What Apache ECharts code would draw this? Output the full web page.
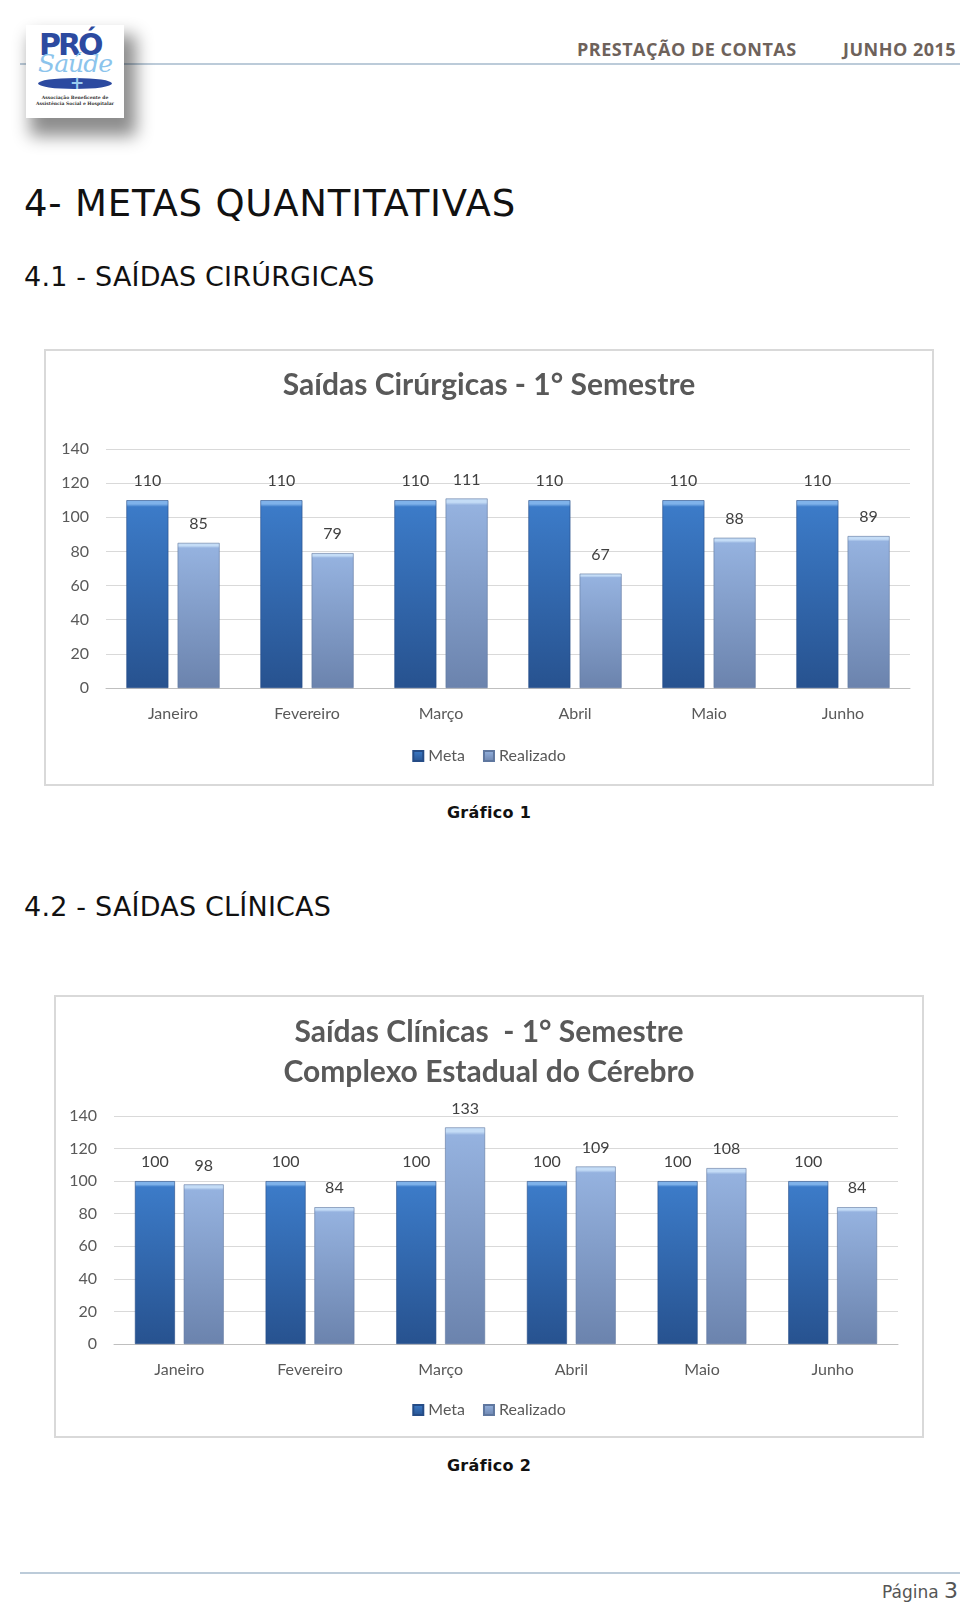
<!DOCTYPE html>
<html><head><meta charset="utf-8">
<script src="https://cdn.jsdelivr.net/npm/echarts@6/dist/echarts.min.js"></script>
<style>
html,body{margin:0;padding:0;background:#fff;width:960px;height:1609px;overflow:hidden;position:relative;font-family:"DejaVu Sans",sans-serif;}
.abs{position:absolute;}
.hdr{top:37px;font-family:"Open Sans",sans-serif;font-weight:700;font-size:18px;color:#6e625b;letter-spacing:0.5px;}
.hline{left:20px;width:940px;height:2px;background:#bccbd9;}
.h1{left:24px;top:182px;font-size:37px;color:#111;font-family:"DejaVu Sans",sans-serif;letter-spacing:0.8px;}
.h2{left:24px;font-size:27px;color:#111;font-family:"DejaVu Sans",sans-serif;letter-spacing:0.2px;}
.cap{font-family:"DejaVu Sans",sans-serif;font-weight:700;font-size:16px;color:#111;width:200px;text-align:center;letter-spacing:0.3px;}
.box{border:2px solid #d9d9d9;box-sizing:border-box;}
#logo{left:26px;top:25px;width:98px;height:93px;background:#fff;box-shadow:8px 14px 16px 4px rgba(0,0,0,0.45);z-index:5;overflow:hidden;}
</style></head>
<body>
<div class="abs hline" style="top:63px;"></div>
<div id="logo" class="abs">
  <div class="abs" style="left:13px;top:2px;font-family:'DejaVu Sans';font-weight:700;font-size:30px;color:#2c4aa0;letter-spacing:-3px;">PRÓ</div>
  <div class="abs" style="left:12px;top:24px;font-family:'DejaVu Serif';font-style:italic;font-size:25px;color:#8cc4ec;letter-spacing:-1px;">Saúde</div>
  <div class="abs" style="left:12px;top:53px;width:74px;height:11px;border-radius:50%;background:#2c4aa0;"></div>
  <div class="abs" style="left:44px;top:48px;width:10px;height:20px;color:#9ccdf0;font-size:17px;font-weight:700;line-height:20px;text-align:center;">+</div>
  <div class="abs" style="left:4px;top:70px;width:90px;text-align:center;font-family:'DejaVu Serif';font-size:4.5px;line-height:6px;color:#333;font-weight:700;">Associação Beneficente de<br>Assistência Social e Hospitalar</div>
</div>
<div class="abs hdr" style="left:577px;">PRESTAÇÃO DE CONTAS</div>
<div class="abs hdr" style="left:843px;">JUNHO 2015</div>

<div class="abs h1">4- METAS QUANTITATIVAS</div>
<div class="abs h2" style="top:261px;">4.1 - SAÍDAS CIRÚRGICAS</div>
<div class="abs h2" style="top:891px;">4.2 - SAÍDAS CLÍNICAS</div>

<div id="c1" class="abs box" style="left:44px;top:349px;width:890px;height:437px;"></div>
<div class="abs cap" style="left:389px;top:803px;">Gráfico 1</div>
<div id="c2" class="abs box" style="left:54px;top:995px;width:870px;height:443px;"></div>
<div class="abs cap" style="left:389px;top:1456px;">Gráfico 2</div>

<div class="abs hline" style="top:1572px;"></div>
<div class="abs" style="right:2px;top:1578px;font-family:'DejaVu Sans';font-size:17px;color:#555;">Página <span style="font-size:22px;">3</span></div>

<script>
const categories = ['Janeiro','Fevereiro','Março','Abril','Maio','Junho'];
const seriesNames = ['Meta','Realizado'];
const cirMeta = [110,110,110,110,110,110];
const cirRealizado = [85,79,111,67,88,89];
const cliMeta = [100,100,100,100,100,100];
const cliRealizado = [98,84,133,109,108,84];
const yTicks = [0,20,40,60,80,100,120,140];

const F = 'Lato, "Open Sans", sans-serif';
function grad(cap, top, bottom){
  return new echarts.graphic.LinearGradient(0,0,0,1,[
    {offset:0,color:cap},{offset:0.02,color:cap},{offset:0.035,color:top},{offset:1,color:bottom}
  ]);
}
const metaColor = grad('#7fb2ea','#3c7bc8','#27528f');
const realColor = grad('#c4dcf6','#95b2df','#6b83ad');

function build(el, titleText, titleTop, meta, real, grid, legendTop, bw){
  const chart = echarts.init(document.getElementById(el), null, {renderer:'canvas'});
  const lbl = {show:true, position:'top', distance:11, color:'#404040', fontFamily:F, fontSize:16};
  chart.setOption({
    animation:false,
    title:{text:titleText, left:'center', top:titleTop,
      textStyle:{fontFamily:F, fontWeight:'bold', fontSize:30, color:'#595959', lineHeight:40}},
    legend:{data:seriesNames, top:legendTop, left:'center', itemWidth:10, itemHeight:10, itemGap:18,
      icon:'rect', textStyle:{fontFamily:F, fontSize:16, color:'#595959'}},
    grid:grid,
    xAxis:{type:'category', data:categories, axisTick:{show:false},
      axisLine:{lineStyle:{color:'#bfbfbf', width:1}},
      axisLabel:{fontFamily:F, fontSize:16, color:'#595959', margin:18}},
    yAxis:{type:'value', min:yTicks[0], max:yTicks[yTicks.length-1], interval:20,
      axisLine:{show:false}, axisTick:{show:false},
      splitLine:{lineStyle:{color:'#d9d9d9'}},
      axisLabel:{fontFamily:F, fontSize:16, color:'#595959', margin:17}},
    series:[
      {name:seriesNames[0], type:'bar', data:meta, barWidth:bw, barGap:'22%',
        itemStyle:{color:metaColor, borderColor:'#254c86', borderWidth:0.6}, label:lbl},
      {name:seriesNames[1], type:'bar', data:real, barWidth:bw, barGap:'22%',
        itemStyle:{color:realColor, borderColor:'#5f779f', borderWidth:0.6}, label:lbl}
    ]
  });
}
build('c1','Saídas Cirúrgicas - 1° Semestre',9,cirMeta,cirRealizado,
  {left:60,right:22,top:98,bottom:96},392,42);
build('c2','Saídas Clínicas  - 1° Semestre\nComplexo Estadual do Cérebro',10,cliMeta,cliRealizado,
  {left:58,right:24,top:119,bottom:92},400,40);
</script>
</body></html>
